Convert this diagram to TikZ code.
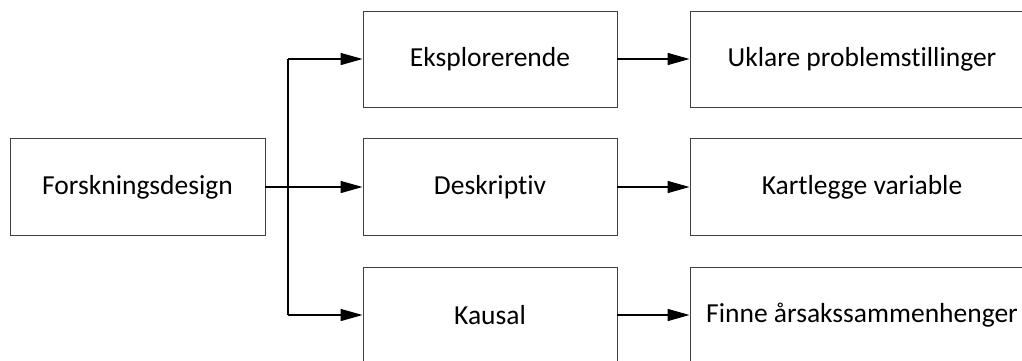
\documentclass[tikz,border=0pt]{standalone}
\usepackage{fontspec}
\setmainfont{Carlito}[Ligatures=NoCommon]
\usetikzlibrary{arrows.meta}
\tikzset{
  box/.style={draw=black!75, line width=0.9pt, fill=white, inner sep=0pt, font=\fontsize{27.5}{30}\selectfont},
  link/.style={draw=black, line width=1.4pt, -{Triangle[length=22pt,width=12pt]}},
  trunk/.style={draw=black, line width=1.4pt}
}
\begin{document}
\begin{tikzpicture}[x=1pt,y=-1pt]
  \useasboundingbox (0,0) rectangle (1022,360);
  \clip (0,0) rectangle (1022,360);
  \fill[white] (0,0) rectangle (1022,360);
  % source box
  \node[box, minimum width=255pt, minimum height=97pt] (src) at (137.5,187) {Forskningsdesign};
  % design types
  \node[box, minimum width=254pt, minimum height=96pt] (eks) at (490,59) {Eksplorerende};
  \node[box, minimum width=254pt, minimum height=97pt] (des) at (490,187) {Deskriptiv};
  \node[box, minimum width=254pt, minimum height=96pt] (kau) at (490,315) {Kausal};
  % purposes
  \node[box, minimum width=344pt, minimum height=96pt] (ukl) at (862,59) {Uklare problemstillinger};
  \node[box, minimum width=344pt, minimum height=97pt] (kar) at (862,187) {Kartlegge variable};
  \node[box, minimum width=344pt, minimum height=96pt] (fin) at (862,315) {Finne årsakssammenhenger};
  % branching connectors
  \coordinate (top) at (288,59);
  \coordinate (bot) at (288,315);
  \draw[trunk] (top) -- (bot);
  \draw[link] (src.east) -- (des.west);
  \draw[link] (top) -- (eks.west);
  \draw[link] (bot) -- (kau.west);
  \draw[link] (eks.east) -- (ukl.west);
  \draw[link] (des.east) -- (kar.west);
  \draw[link] (kau.east) -- (fin.west);
\end{tikzpicture}
\end{document}
